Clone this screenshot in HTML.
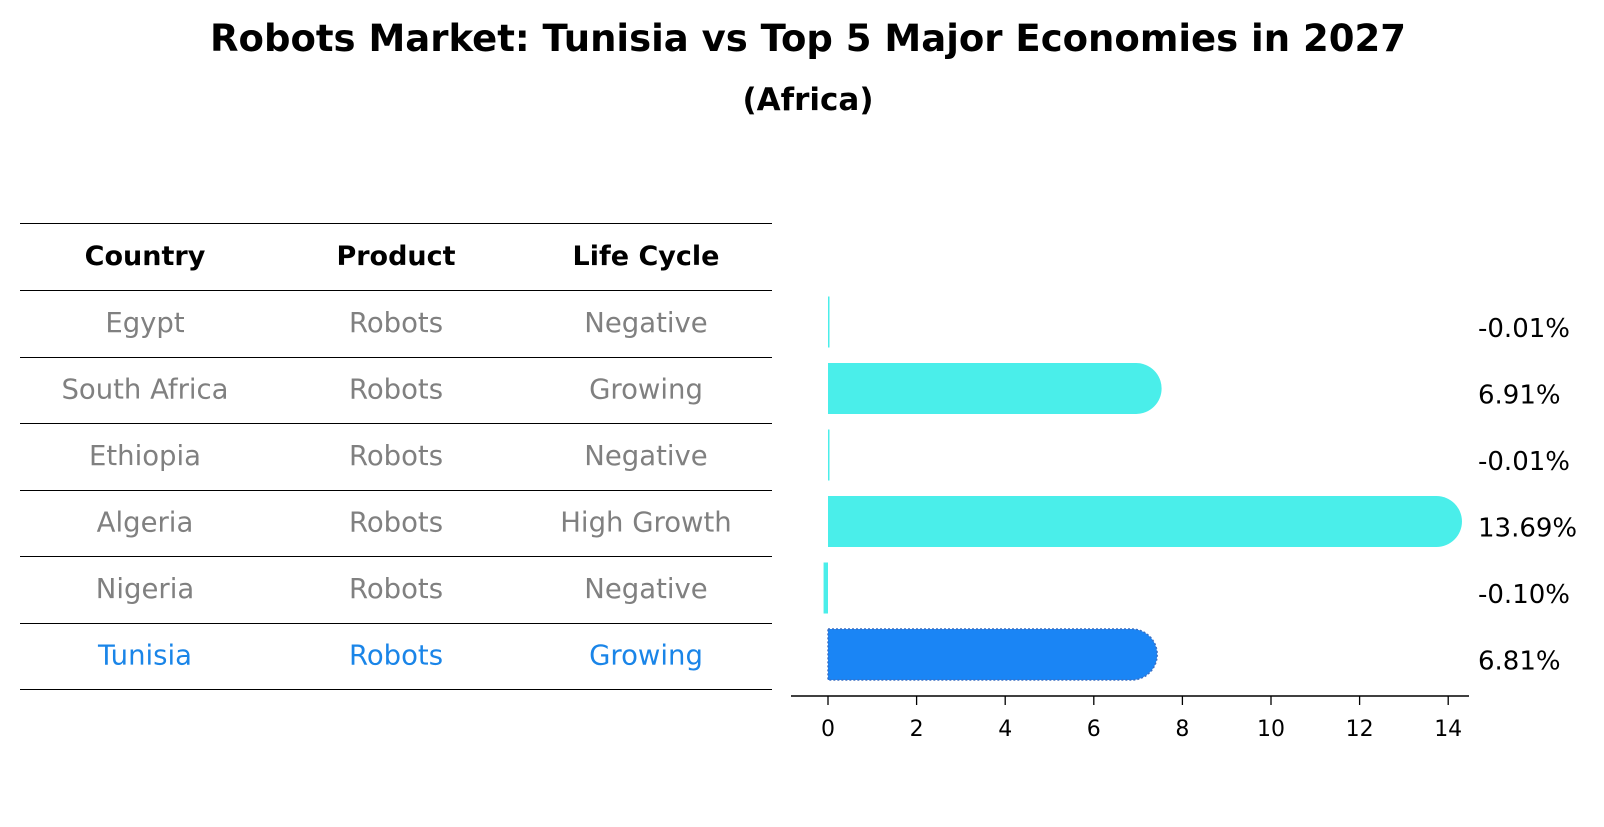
<!DOCTYPE html>
<html><head><meta charset="utf-8"><style>
body{margin:0;background:#fff;width:1604px;height:823px;overflow:hidden;font-family:"DejaVu Sans","Liberation Sans",sans-serif}
</style></head><body>
<svg width="1604" height="823" xmlns="http://www.w3.org/2000/svg" font-family="DejaVu Sans, Liberation Sans, sans-serif">
<text x="808" y="51" text-anchor="middle" font-size="37" font-weight="bold">Robots Market: Tunisia vs Top 5 Major Economies in 2027</text>
<text x="808" y="110" text-anchor="middle" font-size="31" font-weight="bold">(Africa)</text>
<g id="table"></g>
<g id="bars"></g>
</svg>
<script>
const countries=["Egypt","South Africa","Ethiopia","Algeria","Nigeria","Tunisia"];
const products=["Robots","Robots","Robots","Robots","Robots","Robots"];
const lifeCycles=["Negative","Growing","Negative","High Growth","Negative","Growing"];
const values=[-0.01,6.91,-0.01,13.69,-0.10,6.81];
const valueLabels=["-0.01%","6.91%","-0.01%","13.69%","-0.10%","6.81%"];
const ticks=[0,2,4,6,8,10,12,14];
const NS="http://www.w3.org/2000/svg";
function mk(t,a,p){const e=document.createElementNS(NS,t);for(const k in a)e.setAttribute(k,a[k]);p.appendChild(e);return e;}
const tb=document.getElementById('table');
const rowY=i=>322+i*66.5;
const colX=[145,396,646];
const lineYs=[223,290];
for(let i=0;i<countries.length;i++)lineYs.push(290+(i+1)*66.5);
lineYs.forEach((y,i)=>{const l=mk('line',{x1:20,x2:772,y1:Math.round(y)+0.5,y2:Math.round(y)+0.5,stroke:'#000','stroke-width':1},tb);

});
["Country","Product","Life Cycle"].forEach((h,j)=>{const t=mk('text',{x:colX[j],y:265,'text-anchor':'middle','font-size':27,'font-weight':'bold'},tb);t.textContent=h;

});
countries.forEach((c,i)=>{const col=i===5?'#1a85e8':'#808080';[c,products[i],lifeCycles[i]].forEach((v,j)=>{
const t=mk('text',{x:colX[j],y:rowY(i)+10,'text-anchor':'middle','font-size':27.5,fill:col},tb);t.textContent=v;

});});
const bg=document.getElementById('bars');
const x0=828,unit=44.3;
const xs=v=>x0+v*unit;
const h=51,r=25.5;
values.forEach((v,i)=>{const cy=rowY(i);const fill=i===5?'#1a85f5':'#4aeeea';
let el;
if(v>0.5){const x1=xs(0),x2=xs(v)+2;
el=mk('path',{d:`M${x1},${cy-h/2} L${x2},${cy-h/2} A${r},${r} 0 0 1 ${x2},${cy+h/2} L${x1},${cy+h/2} Z`,fill:fill},bg);
if(i===5){el.setAttribute('stroke','#3a6fc4');el.setAttribute('stroke-dasharray','2,2');el.setAttribute('stroke-width','1.5');}}
else{const w=Math.max(1.5,Math.abs(v)*unit);el=mk('rect',{x:xs(0)-(v<-0.05?w:0),y:cy-h/2,width:w,height:h,fill:fill},bg);}


const t=mk('text',{x:1478,y:cy+15,'font-size':26},bg);t.textContent=valueLabels[i];

});
const ax=mk('line',{x1:791,x2:1469,y1:696,y2:696,stroke:'#000','stroke-width':1.5},bg);


ticks.forEach(tv=>{const tk=mk('line',{x1:xs(tv),x2:xs(tv),y1:696,y2:705,stroke:'#000','stroke-width':1.3},bg);


const t=mk('text',{x:xs(tv),y:736,'text-anchor':'middle','font-size':22},bg);t.textContent=tv;

});
</script>
</body></html>
